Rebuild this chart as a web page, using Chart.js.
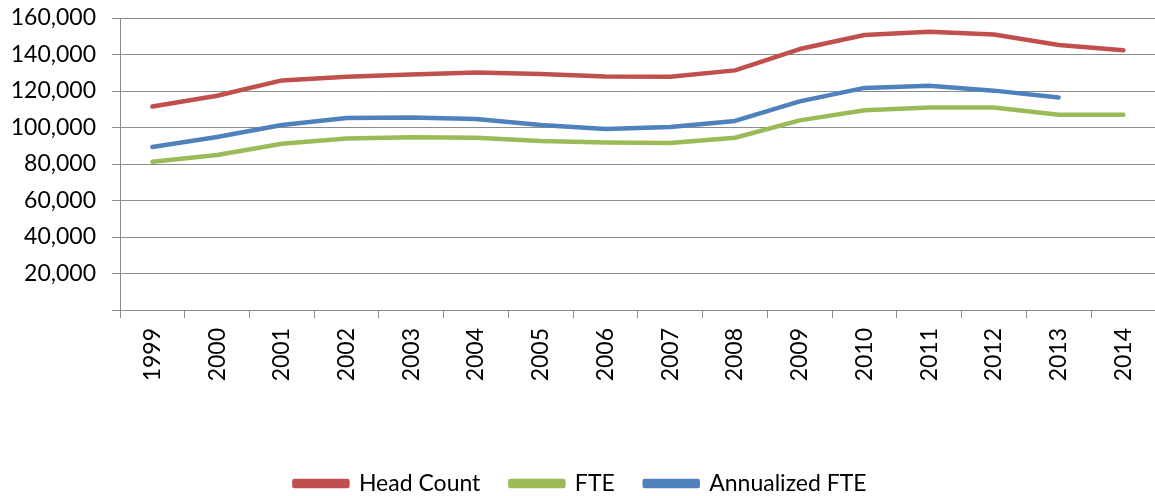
<!DOCTYPE html>
<html>
<head>
<meta charset="utf-8">
<script src="https://cdn.jsdelivr.net/npm/chart.js@4"></script>
<style>
  html, body { margin: 0; padding: 0; background: #fff; overflow: hidden; }
  #wrap { width: 1161px; height: 505px; }
</style>
</head>
<body>
<div id="wrap"><canvas id="myChart"></canvas></div>
<script>
// values
const years = ['1999', '2000', '2001', '2002', '2003', '2004', '2005', '2006',
               '2007', '2008', '2009', '2010', '2011', '2012', '2013', '2014'];
const headCount = [111500, 117400, 125800, 127800, 129000, 130200, 129300, 128000,
                   127800, 131300, 143000, 150700, 152500, 151000, 145200, 142300];
const fte = [81200, 84900, 91100, 94000, 94600, 94400, 92600, 91800,
             91500, 94400, 103900, 109400, 110900, 110900, 107000, 107000];
const annualizedFte = [89300, 94800, 101400, 105200, 105500, 104600, 101400, 99200,
                       100300, 103600, 114300, 121700, 122900, 120200, 116500, null];

const gridGray = '#8c8c8c';
const font = { family: 'Lato', size: 23 };

document.addEventListener("DOMContentLoaded", function () {
    const ctx = document.getElementById('myChart');

    const line = (label, data, color) => ({
        label: label,
        data: data,
        borderColor: color,
        backgroundColor: color,
        borderWidth: 4.5,
        pointRadius: 0,
        tension: 0,
        borderJoinStyle: 'round',
        borderCapStyle: 'round',
        fill: false
    });

    new Chart(ctx, {
        type: 'line',
        data: {
            labels: years,
            datasets: [
                line('Head Count', headCount, '#c0504d'),
                line('FTE', fte, '#9bbb59'),
                line('Annualized FTE', annualizedFte, '#4f81bd')
            ]
        },
        options: {
            responsive: true,
            maintainAspectRatio: false,
            animation: false,
            layout: { padding: { top: 18, right: 0, bottom: 0, left: 0 } },
            plugins: {
                tooltip: { enabled: false },
                legend: {
                    position: 'bottom',
                    labels: {
                        color: '#000',
                        font: font,
                        boxWidth: 53,
                        boxHeight: 5,
                        padding: 30
                    }
                }
            },
            scales: {
                x: {
                    offset: true,
                    grid: {
                        offset: true,
                        drawOnChartArea: false,
                        drawTicks: true,
                        tickLength: 8,
                        color: gridGray
                    },
                    border: { color: gridGray, width: 1 },
                    ticks: {
                        color: '#000',
                        font: font,
                        minRotation: 90,
                        maxRotation: 90,
                        padding: 10,
                        autoSkip: false
                    },
                    afterFit: function (scale) { scale.height = 132; }
                },
                y: {
                    min: 0,
                    max: 160000,
                    grid: {
                        color: gridGray,
                        tickLength: 8
                    },
                    border: { color: gridGray, width: 1 },
                    ticks: {
                        stepSize: 20000,
                        color: '#000',
                        font: font,
                        padding: 16,
                        callback: function (v) { return v === 0 ? '' : v.toLocaleString('en-US'); }
                    },
                    afterFit: function (scale) {
                        scale.width = 120;
                        scale.paddingTop = 0;
                        scale.paddingBottom = 0;
                    }
                }
            }
        }
    });
});
</script>
</body>
</html>
